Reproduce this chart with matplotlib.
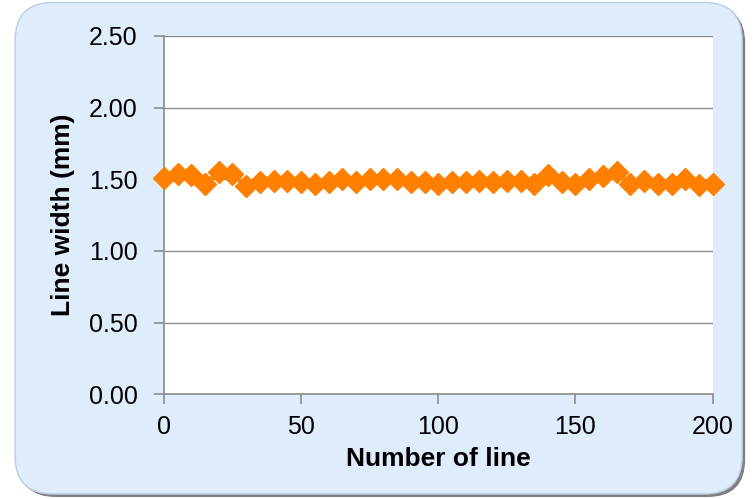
import numpy as np
import matplotlib
matplotlib.use("Agg")
import matplotlib.pyplot as plt
from matplotlib.patches import FancyBboxPatch

plt.rcParams['font.family'] = ['Liberation Sans', 'DejaVu Sans']

line_no = list(range(0, 201, 5))
line_width = [1.51, 1.54, 1.53, 1.47, 1.55, 1.54, 1.45, 1.48, 1.49, 1.49,
              1.48, 1.47, 1.48, 1.50, 1.48, 1.50, 1.50, 1.50, 1.48, 1.48,
              1.47, 1.48, 1.48, 1.49, 1.48, 1.49, 1.49, 1.47, 1.53, 1.48,
              1.47, 1.50, 1.52, 1.55, 1.47, 1.49, 1.47, 1.47, 1.50, 1.46,
              1.47]
y_ticks = [0.0, 0.5, 1.0, 1.5, 2.0, 2.5]
x_ticks = [0, 50, 100, 150, 200]

fig = plt.figure(figsize=(7.55, 4.99), dpi=100)
fig.patch.set_facecolor('white')

# rounded chart-area box with shadow
asp = 755 / 499
shadow = FancyBboxPatch((0.024, 0.004), 0.963, 0.985,
                        boxstyle="round,pad=0,rounding_size=0.05",
                        transform=fig.transFigure, facecolor='#808080',
                        edgecolor='none', zorder=-2, mutation_aspect=asp)
box = FancyBboxPatch((0.020, 0.010), 0.963, 0.985,
                     boxstyle="round,pad=0,rounding_size=0.05",
                     transform=fig.transFigure, facecolor='#deecfc',
                     edgecolor='#b9cde5', linewidth=1.0, zorder=-1,
                     mutation_aspect=asp)
fig.patches.extend([shadow, box])

ax = fig.add_axes([0.217, 0.210, 0.727, 0.718])
ax.set_facecolor('white')
ax.plot(line_no, line_width, color='#ff8000', linewidth=3, marker='D',
        markersize=11, markeredgecolor='#ff8000', clip_on=False, zorder=3)

ax.set_xlim(0, 200)
ax.set_ylim(0, 2.5)
ax.set_xticks(x_ticks)
ax.set_yticks(y_ticks)
ax.set_yticklabels([f"{v:.2f}" for v in y_ticks])
ax.yaxis.grid(True, color='#8c8c8c', linewidth=1)
ax.set_axisbelow(True)

for s in ['top', 'right']:
    ax.spines[s].set_visible(False)
for s in ['left', 'bottom']:
    ax.spines[s].set_color('#8c8c8c')
    ax.spines[s].set_linewidth(1.2)

ax.tick_params(axis='both', colors='#8c8c8c', labelcolor='black',
               labelsize=18, length=7, width=1.2, direction='out')
ax.tick_params(axis='x', pad=8)
ax.tick_params(axis='y', pad=12)

ax.set_xlabel('Number of line', fontsize=19, fontweight='bold', labelpad=6)
ax.set_ylabel('Line width (mm)', fontsize=19, fontweight='bold', labelpad=10)

fig.savefig('out.png', dpi=100, facecolor=fig.get_facecolor())
